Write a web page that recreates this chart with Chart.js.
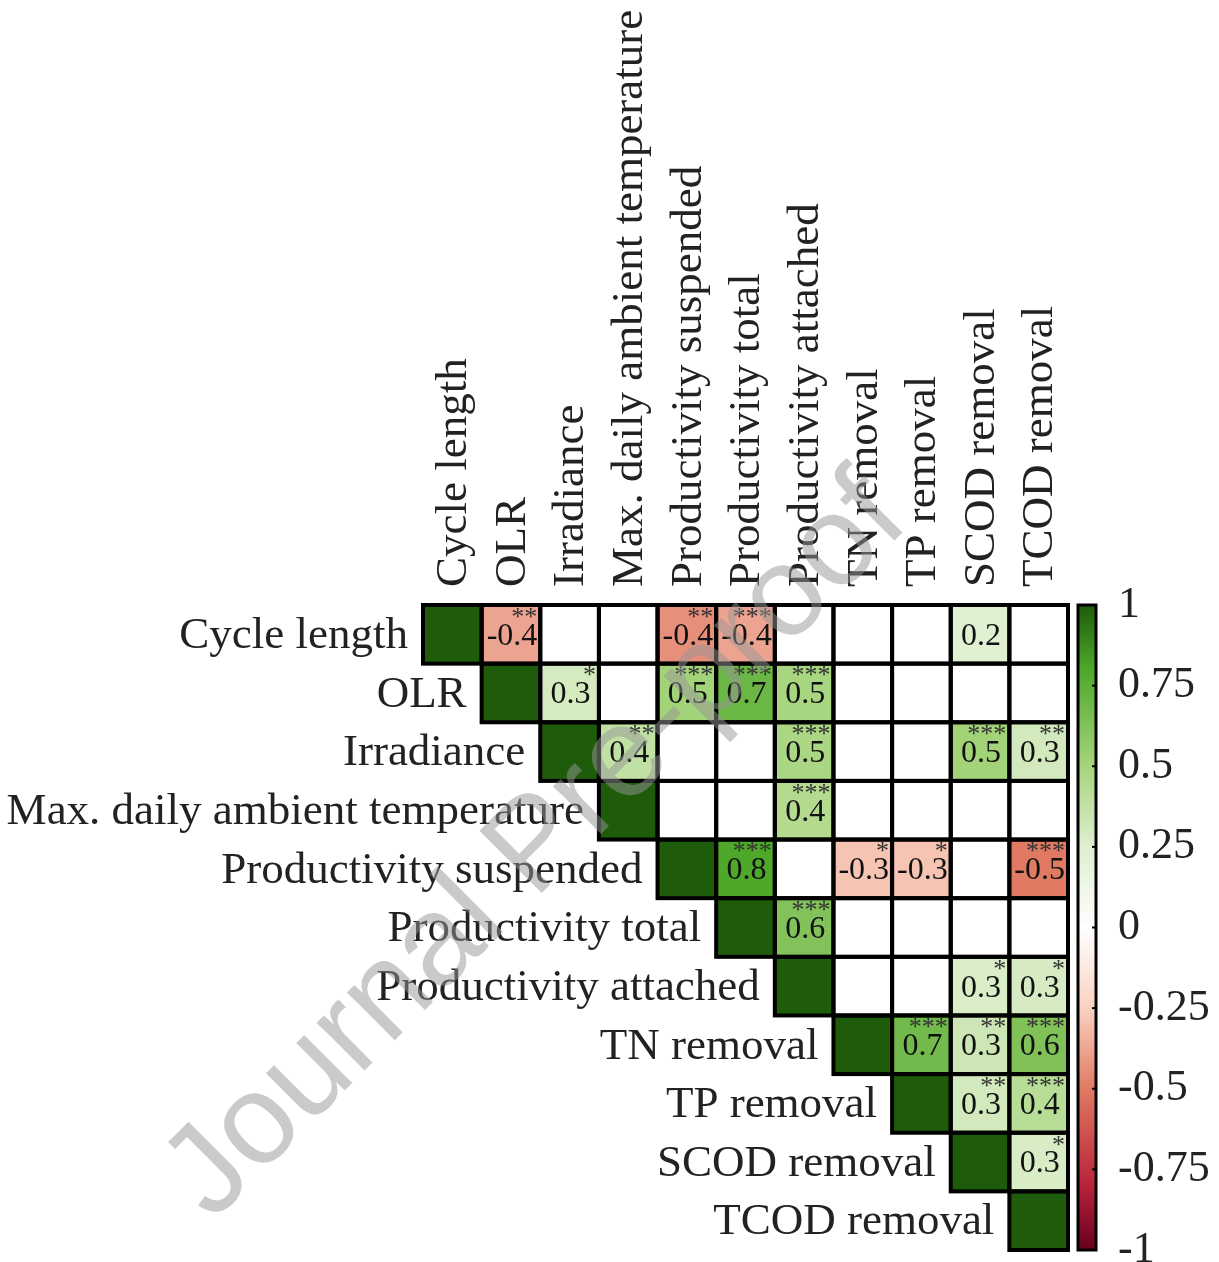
<!DOCTYPE html>
<html>
<head>
<meta charset="utf-8">
<script src="https://cdn.jsdelivr.net/npm/chart.js@4.4.0/dist/chart.umd.min.js"></script>
<style>
  html, body { margin: 0; padding: 0; background: #fff; }
  #wrap { width: 1219px; height: 1262px; }
</style>
</head>
<body>
<div id="wrap"><canvas id="corrChart" width="1219" height="1262"></canvas></div>
<script>
const vars = ['Cycle length', 'OLR', 'Irradiance', 'Max. daily ambient temperature',
  'Productivity suspended', 'Productivity total', 'Productivity attached',
  'TN removal', 'TP removal', 'SCOD removal', 'TCOD removal'];

// upper triangle, each row starts at its own diagonal. null = not significant (white cell)
const rCycle  = [1, -0.38, null, null, -0.44, -0.38, null, null, null, 0.24, null];
const rOLR    = [1, 0.3, null, 0.51, 0.7, 0.49, null, null, null, null];
const rIrr    = [1, 0.38, null, null, 0.48, null, null, 0.51, 0.31];
const rTemp   = [1, null, null, 0.44, null, null, null, null];
const rSusp   = [1, 0.8, null, -0.29, -0.29, null, -0.5];
const rTotal  = [1, 0.62, null, null, null, null];
const rAttach = [1, null, null, 0.27, 0.29];
const rTN     = [1, 0.68, 0.33, 0.63];
const rTP     = [1, 0.31, 0.42];
const rSCOD   = [1, 0.28];
const rTCOD   = [1];

// significance stars
const sCycle  = ['', '**', '', '', '**', '***', '', '', '', '', ''];
const sOLR    = ['', '*', '', '***', '***', '***', '', '', '', ''];
const sIrr    = ['', '**', '', '', '***', '', '', '***', '**'];
const sTemp   = ['', '', '', '***', '', '', '', ''];
const sSusp   = ['', '***', '', '*', '*', '', '***'];
const sTotal  = ['', '***', '', '', '', ''];
const sAttach = ['', '', '', '*', '*'];
const sTN     = ['', '***', '**', '***'];
const sTP     = ['', '**', '***'];
const sSCOD   = ['', '*'];
const sTCOD   = [''];

const rows  = [rCycle, rOLR, rIrr, rTemp, rSusp, rTotal, rAttach, rTN, rTP, rSCOD, rTCOD];
const stars = [sCycle, sOLR, sIrr, sTemp, sSusp, sTotal, sAttach, sTN, sTP, sSCOD, sTCOD];

// colour scale
const cbStops  = [-1, -0.8, -0.5, -0.25, 0, 0.25, 0.5, 0.8, 1];
const cbColors = ['#67001f', '#b8233a', '#e07a63', '#fad2c1', '#ffffff', '#dfefd0', '#a6d47c', '#4ea82a', '#1e5c0b'];
const cbTicks  = [-1, -0.75, -0.5, -0.25, 0, 0.25, 0.5, 0.75, 1];

const SERIF = "'Liberation Serif', 'Times New Roman', serif";
Chart.defaults.font.family = SERIF;

function hex(c) { return [1, 3, 5].map(i => parseInt(c.slice(i, i + 2), 16)); }
function colorFor(v) {
  if (v === null) return '#ffffff';
  for (let i = 1; i < cbStops.length; i++) {
    if (v <= cbStops[i]) {
      const t = (v - cbStops[i - 1]) / (cbStops[i] - cbStops[i - 1]);
      const a = hex(cbColors[i - 1]), b = hex(cbColors[i]);
      const m = a.map((x, k) => Math.round(x + (b[k] - x) * t));
      return `rgb(${m[0]},${m[1]},${m[2]})`;
    }
  }
  return cbColors[cbColors.length - 1];
}

const datasets = rows.map((vals, r) => ({
  label: vars[r],
  data: vars.map((_, c) => c >= r ? [r, r + 1] : null),
  backgroundColor: vars.map((_, c) => c >= r ? colorFor(vals[c - r]) : 'rgba(0,0,0,0)'),
  borderWidth: 0,
  grouped: false,
  barPercentage: 1,
  categoryPercentage: 1
}));

const cellsPlugin = {
  id: 'cells',
  afterDatasetsDraw(chart) {
    const ctx = chart.ctx;
    ctx.save();
    // cell borders
    ctx.lineWidth = 4;
    ctx.strokeStyle = '#000';
    chart.data.datasets.forEach((ds, r) => {
      chart.getDatasetMeta(r).data.forEach((bar, c) => {
        if (c < r) return;
        const top = Math.min(bar.y, bar.base), h = Math.abs(bar.base - bar.y);
        ctx.strokeRect(bar.x - bar.width / 2, top, bar.width, h);
      });
    });
    // values + stars
    chart.data.datasets.forEach((ds, r) => {
      chart.getDatasetMeta(r).data.forEach((bar, c) => {
        if (c <= r) return;
        const v = rows[r][c - r];
        if (v === null) return;
        const top = Math.min(bar.y, bar.base), h = Math.abs(bar.base - bar.y);
        const left = bar.x - bar.width / 2;
        ctx.fillStyle = '#111';
        ctx.font = `32px ${SERIF}`;
        ctx.textAlign = 'center';
        ctx.textBaseline = 'middle';
        ctx.fillText(v.toFixed(1), bar.x + 1, top + h / 2 + 2);
        const s = stars[r][c - r];
        if (s) {
          ctx.font = `26px ${SERIF}`;
          ctx.textAlign = 'right';
          ctx.textBaseline = 'top';
          ctx.fillStyle = '#333';
          ctx.fillText(s, left + bar.width - 3, top);
        }
      });
    });
    // row labels next to the diagonal
    ctx.font = `45px ${SERIF}`;
    ctx.fillStyle = '#222';
    ctx.textAlign = 'right';
    ctx.textBaseline = 'middle';
    vars.forEach((name, r) => {
      const bar = chart.getDatasetMeta(r).data[r];
      const top = Math.min(bar.y, bar.base), h = Math.abs(bar.base - bar.y);
      ctx.fillText(name, bar.x - bar.width / 2 - 15, top + h / 2 + 2);
    });
    // colour bar
    const cb = chart.scales.cb;
    const x0 = chart.chartArea.right + 10, w = 18;
    const yTop = cb.getPixelForValue(1), yBot = cb.getPixelForValue(-1);
    const g = ctx.createLinearGradient(0, yBot, 0, yTop);
    cbStops.forEach((s, i) => g.addColorStop((s + 1) / 2, cbColors[i]));
    ctx.fillStyle = g;
    ctx.fillRect(x0, yTop, w, yBot - yTop);
    ctx.lineWidth = 3;
    ctx.strokeStyle = '#000';
    ctx.strokeRect(x0, yTop, w, yBot - yTop);
    ctx.lineWidth = 2;
    cbTicks.forEach(t => {
      const py = cb.getPixelForValue(t);
      ctx.beginPath();
      ctx.moveTo(x0 + w - 4, py);
      ctx.lineTo(x0 + w, py);
      ctx.stroke();
    });
    ctx.restore();
  },
  afterDraw(chart) {
    // "Journal Pre-proof" watermark
    const ctx = chart.ctx;
    ctx.save();
    ctx.translate(537, 848);
    ctx.rotate(-45 * Math.PI / 180);
    ctx.font = "128px 'Liberation Sans', Arial, sans-serif";
    ctx.fillStyle = 'rgba(150,150,150,0.5)';
    ctx.textAlign = 'center';
    ctx.textBaseline = 'middle';
    ctx.fillText('Journal Pre-proof', 0, 0);
    ctx.restore();
  }
};

new Chart(document.getElementById('corrChart'), {
  type: 'bar',
  data: { labels: vars, datasets },
  options: {
    responsive: false,
    animation: false,
    layout: { padding: { left: 423, top: 10, right: 0, bottom: 12 } },
    plugins: { legend: { display: false }, tooltip: { enabled: false } },
    scales: {
      x: {
        position: 'top',
        grid: { display: false, drawTicks: false },
        border: { display: false },
        ticks: { autoSkip: false, minRotation: 90, maxRotation: 90, padding: 18, labelOffset: 56, color: '#222', font: { size: 45 } },
        afterFit: s => { s.height = 595; s.paddingLeft = 0; s.paddingRight = 0; }
      },
      y: { display: false, min: 0, max: 11, reverse: true },
      cb: {
        type: 'linear', axis: 'y', position: 'right', min: -1, max: 1,
        grid: { display: false, drawTicks: false },
        border: { display: false },
        afterBuildTicks: s => { s.ticks = cbTicks.map(v => ({ value: v })); },
        afterFit: s => { s.width = 151; s.paddingTop = 0; s.paddingBottom = 0; },
        ticks: { padding: 50, color: '#222', font: { size: 44 }, callback: v => String(+v.toFixed(2)) }
      }
    }
  },
  plugins: [cellsPlugin]
});
</script>
</body>
</html>
